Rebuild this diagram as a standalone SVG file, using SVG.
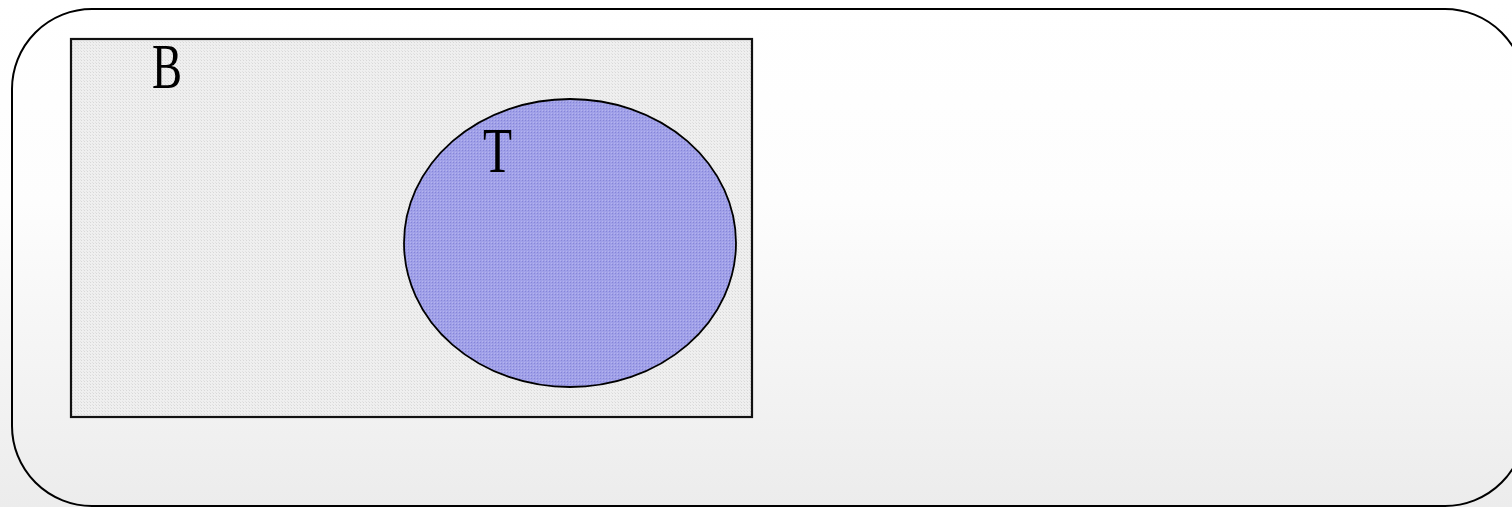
<svg xmlns="http://www.w3.org/2000/svg" width="1512" height="507" viewBox="0 0 1512 507">
  <defs>
    <linearGradient id="bg" x1="0" y1="0" x2="0" y2="1">
      <stop offset="0" stop-color="#ffffff"/>
      <stop offset="0.4" stop-color="#fdfdfd"/>
      <stop offset="1" stop-color="#ececec"/>
    </linearGradient>
    <pattern id="grayDots" width="3" height="3" patternUnits="userSpaceOnUse">
      <rect width="3" height="3" fill="#efefef"/>
      <rect width="1" height="1" fill="#d8d8d8"/>
      <rect x="2" y="2" width="1" height="1" fill="#e2e2e2"/>
    </pattern>
    <pattern id="blueDots" width="3" height="3" patternUnits="userSpaceOnUse">
      <rect width="3" height="3" fill="#a0a0e8"/>
      <rect width="1" height="1" fill="#8585d8"/>
      <rect x="2" y="2" width="1" height="1" fill="#b4b4ee"/>
    </pattern>
  </defs>
  <style>
    .frame { fill: none; stroke: #000; stroke-width: 2; }
    .label { font-family: "Liberation Serif", "DejaVu Serif", serif; font-size: 64px; fill: #000; }
  </style>
  <rect x="0" y="0" width="1512" height="507" fill="url(#bg)"/>
  <g id="frame">
    <rect class="frame" x="12" y="9" width="1513" height="497" rx="80" ry="80"/>
  </g>
  <g id="node-B">
    <rect x="71" y="39" width="681" height="378" fill="url(#grayDots)" stroke="#111" stroke-width="2.2"/>
    <text class="label" x="152" y="88" textLength="30" lengthAdjust="spacingAndGlyphs">B</text>
  </g>
  <g id="node-T">
    <ellipse cx="570" cy="243" rx="166" ry="144" fill="url(#blueDots)" stroke="#000" stroke-width="1.8"/>
    <text class="label" x="483" y="172" textLength="29" lengthAdjust="spacingAndGlyphs">T</text>
  </g>
  <g id="connectors"></g>
</svg>
